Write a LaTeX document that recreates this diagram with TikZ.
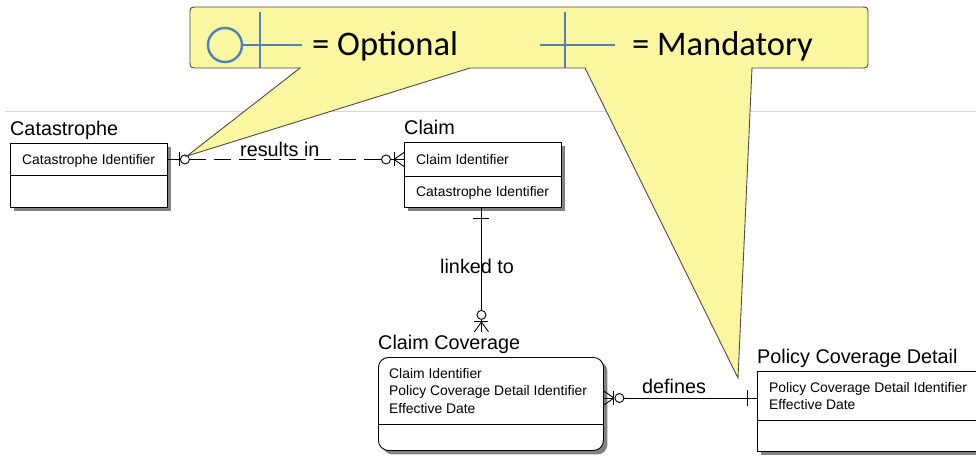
\documentclass[tikz,border=0pt]{standalone}
\usepackage{fontspec}
\setmainfont{Liberation Sans}
\newfontfamily\calibrifont{Carlito}
\usetikzlibrary{shadows,calc}
\definecolor{callfill}{RGB}{250,247,160}
\definecolor{callblue}{RGB}{79,129,189}
\definecolor{shadowgray}{RGB}{130,130,130}
\definecolor{rulegray}{RGB}{215,215,215}
\begin{document}
\begin{tikzpicture}[x=1pt,y=-1pt,
  ent/.style={draw=black, fill=white, line width=0.9pt, inner sep=0pt, anchor=north west,
    drop shadow={shadow xshift=4pt, shadow yshift=-4pt, fill=shadowgray, opacity=1}},
  comp/.style={draw=black, line width=0.9pt, inner sep=0pt, anchor=north west},
  etitle/.style={anchor=base west, inner sep=0pt, font=\fontsize{19.8}{22}\selectfont},
  attr/.style={anchor=base west, inner sep=0pt, font=\fontsize{13.9}{16}\selectfont},
  rel/.style={line width=0.9pt},
  relabel/.style={anchor=base west, inner sep=0pt, font=\fontsize{19.8}{22}\selectfont},
  calltext/.style={anchor=base west, inner sep=0pt, font=\calibrifont\fontsize{34.5}{38}\selectfont},
  blueline/.style={draw=callblue, line width=2.4pt},
  ]
\useasboundingbox (0,0) rectangle (976,460);
\clip (0,0) rectangle (976,460);

% horizontal rule
\draw[rulegray, line width=1pt] (5,111) -- (976,111);

% Catastrophe
\node[ent, minimum width=157pt, minimum height=64pt] (cat) at (10,143) {};
\node[comp, minimum width=157pt, minimum height=32pt] (catk) at (10,143) {};
\node[etitle] (catt) at (10,135) {Catastrophe};
\node[attr] (cata) at (22,164) {Catastrophe Identifier};

% Claim
\node[ent, minimum width=157pt, minimum height=65pt] (clm) at (404,142) {};
\node[comp, minimum width=157pt, minimum height=34pt] (clmk) at (404,142) {};
\node[etitle] (clmt) at (404,134) {Claim};
\node[attr] (clma) at (416,164) {Claim Identifier};
\node[attr] (clmb) at (416,196) {Catastrophe Identifier};

% Claim Coverage
\node[ent, rounded corners=10pt, minimum width=225pt, minimum height=93pt] (cc) at (378,357) {};
\draw[line width=0.9pt] (cc.west |- 0,424) -- (cc.east |- 0,424);
\node[etitle] (cct) at (378,349) {Claim Coverage};
\node[attr] (cca) at (389,378) {Claim Identifier};
\node[attr] (ccb) at (389,395.5) {Policy Coverage Detail Identifier};
\node[attr] (ccc) at (389,413) {Effective Date};

% Policy Coverage Detail
\node[ent, minimum width=240pt, minimum height=80pt] (pcd) at (757,371) {};
\draw[line width=0.9pt] (pcd.west |- 0,420) -- (pcd.east |- 0,420);
\node[etitle] (pcdt) at (757,363) {Policy Coverage Detail};
\node[attr] (pcda) at (769,392) {Policy Coverage Detail Identifier};
\node[attr] (pcdb) at (769,409) {Effective Date};

% ---- results in (Catastrophe |o ---- o|< Claim)
\coordinate (riA) at (catk.east);
\coordinate (riB) at (clmk.west);
\draw[rel] (riA) -- ($(riA)+(12.5,0)$);
\draw[rel] ($(riA)+(12,-7)$) -- ($(riA)+(12,7)$);
\draw[rel] ($(riA)+(17,0)$) circle[radius=4.5pt];
\draw[rel, dash pattern=on 17pt off 8pt] ($(riA)+(21.5,0)$) -- ($(riB)+(-22.5,0)$);
\draw[rel] ($(riB)+(-18,0)$) circle[radius=4.5pt];
\draw[rel] ($(riB)+(-13.5,0)$) -- (riB);
\draw[rel] ($(riB)+(-10,-7)$) -- ($(riB)+(-10,7)$);
\draw[rel] ($(riB)+(-10,0)$) -- ($(riB)+(0,-7)$);
\draw[rel] ($(riB)+(-10,0)$) -- ($(riB)+(0,7)$);
\node[relabel] (rilab) at (240,156) {results in};

% ---- linked to (Claim | ---- o|< Claim Coverage)
\coordinate (lkA) at ($(clm.south)+(-1.5,0)$);
\coordinate (lkB) at ($(lkA)+(0,124)$);
\draw[rel] (lkA) -- ($(lkA)+(0,102.5)$);
\draw[rel] ($(lkA)+(-8,11)$) -- ($(lkA)+(8,11)$);
\draw[rel] ($(lkB)+(0,-17)$) circle[radius=4.5pt];
\draw[rel] ($(lkB)+(0,-12.5)$) -- (lkB);
\draw[rel] ($(lkB)+(-7,-10)$) -- ($(lkB)+(7,-10)$);
\draw[rel] ($(lkB)+(0,-10)$) -- ($(lkB)+(-7,0)$);
\draw[rel] ($(lkB)+(0,-10)$) -- ($(lkB)+(7,0)$);
\node[relabel] (lklab) at (440,273) {linked to};

% ---- defines (Claim Coverage >|o ---- | Policy Coverage Detail)
\coordinate (dfA) at (cc.east |- 0,398);
\coordinate (dfB) at (pcd.west |- 0,398);
\draw[rel] (dfA) -- ($(dfA)+(10,0)$);
\draw[rel] ($(dfA)+(10,0)$) -- ($(dfA)+(0,-7)$);
\draw[rel] ($(dfA)+(10,0)$) -- ($(dfA)+(0,7)$);
\draw[rel] ($(dfA)+(10,-7)$) -- ($(dfA)+(10,7)$);
\draw[rel] ($(dfA)+(15.5,0)$) circle[radius=4.5pt];
\draw[rel] ($(dfA)+(20,0)$) -- (dfB);
\draw[rel] ($(dfB)+(-10,-8)$) -- ($(dfB)+(-10,8)$);
\node[relabel] (dflab) at (642,393) {defines};

% ---- legend callout (rounded box with two pointers)
\path[draw=black!70, line width=0.9pt, fill=callfill]
  (868,40) -- (868,15) .. controls (868,7) .. (860,7)
  -- (198,7) .. controls (190,7) .. (190,15)
  -- (190,60) .. controls (190,68) .. (198,68)
  -- (300,68) -- (187,156) -- (470,68) -- (585,68) -- (738,378) -- (752,68)
  -- (860,68) .. controls (868,68) .. (868,60) -- cycle;
\draw[blueline] (225,45) circle[radius=17pt];
\draw[blueline] (242,45) -- (302,45);
\draw[blueline] (260,12) -- (260,68);
\node[calltext] (opt) at (312,56) {= Optional};
\draw[blueline] (540,45) -- (615,45);
\draw[blueline] (565,12) -- (565,68);
\node[calltext] (mand) at (632,56) {= Mandatory};
\end{tikzpicture}
\end{document}
